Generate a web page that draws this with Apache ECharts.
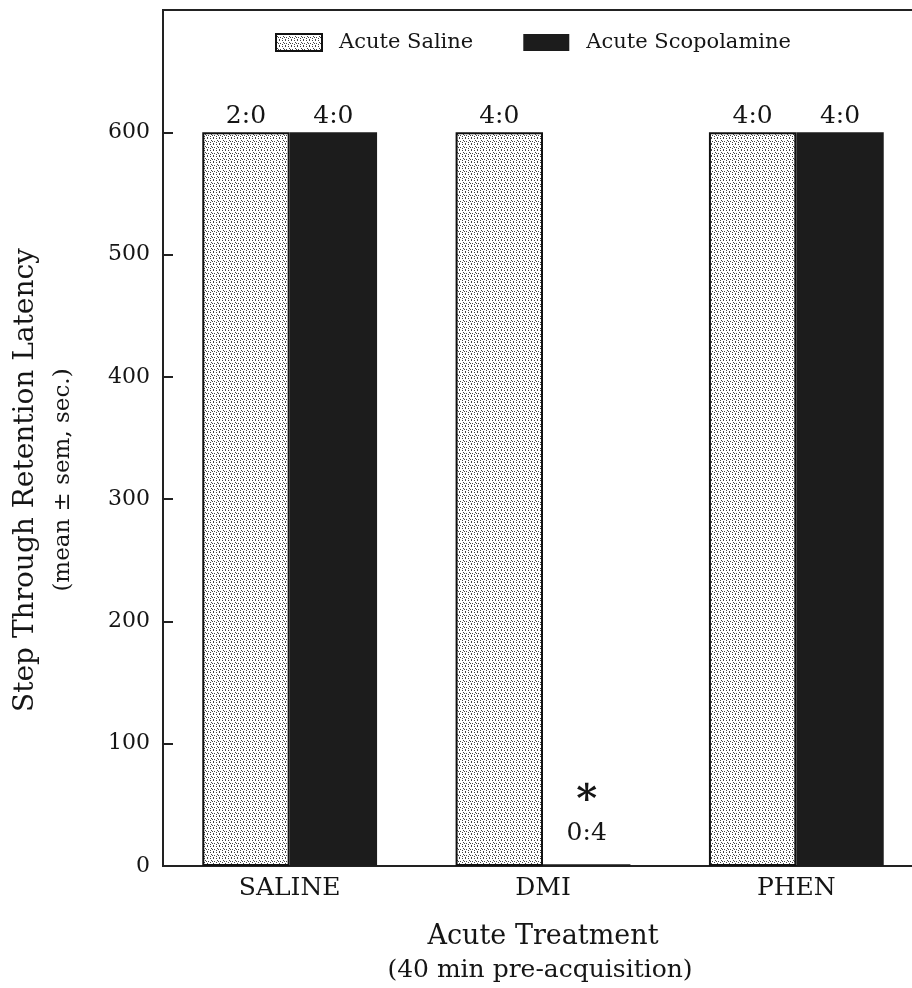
<!DOCTYPE html>
<html><head><meta charset="utf-8">
<script src="https://cdn.jsdelivr.net/npm/echarts@6/dist/echarts.min.js"></script>
<style>html,body{margin:0;padding:0;background:#fff}#c{width:912px;height:988px}</style>
</head><body><div id="c"></div>
<script>
const categories = ['SALINE', 'DMI', 'PHEN'];
const salineValues = [600, 600, 600];
const scopValues = [600, 1.5, 600];
const salineLabels = ['2:0', '4:0', '4:0'];
const scopLabels = ['4:0', '0:4', '4:0'];
const scopStars = [false, true, false];
const yTicks = [0, 100, 200, 300, 400, 500, 600];

function makePattern() {
  const c = document.createElement('canvas');
  c.width = 6; c.height = 6;
  const g = c.getContext('2d');
  g.fillStyle = '#fff'; g.fillRect(0, 0, 6, 6);
  g.fillStyle = '#444';
  [[0,0],[3,0],[1,2],[4,3],[0,4],[3,5],[2,3]].forEach(p => g.fillRect(p[0], p[1], 1, 1));
  return c;
}
const pat = { image: makePattern(), repeat: 'repeat' };
const FONT = 'DejaVu Serif';
const INK = '#151515';

const scopData = scopValues.map((v, i) => scopStars[i]
  ? { value: v, label: { distance: 16, formatter: '{s|*}\n{n|' + scopLabels[i] + '}' } }
  : { value: v, label: { formatter: scopLabels[i] } });

const chart = echarts.init(document.getElementById('c'), null, { renderer: 'canvas' });
chart.setOption({
  animation: false,
  textStyle: { fontFamily: FONT, color: INK },
  grid: { left: 163, width: 760, top: 10, bottom: 122, show: true, borderColor: '#222', borderWidth: 2,
    outerBoundsMode: 'none', containLabel: false },
  legend: {
    top: 27, left: 270, itemWidth: 46, itemHeight: 17, itemGap: 50, icon: 'rect',
    textStyle: { fontFamily: FONT, fontSize: 21, color: INK, padding: [0, 0, 0, 12] },
    data: [
      { name: 'Acute Saline', itemStyle: { color: pat, borderColor: '#111', borderWidth: 2 } },
      { name: 'Acute Scopolamine', itemStyle: { color: '#1c1c1c' } }
    ]
  },
  xAxis: {
    type: 'category', data: categories,
    axisLine: { lineStyle: { color: '#222', width: 2 } },
    axisTick: { show: false },
    axisLabel: { fontFamily: FONT, fontSize: 25, color: INK, margin: 10 },
    name: 'Acute Treatment', nameLocation: 'middle', nameGap: 57,
    nameTextStyle: { fontFamily: FONT, fontSize: 27, color: INK }
  },
  yAxis: {
    type: 'value', min: 0, max: 700, interval: 100,
    axisLine: { show: true, lineStyle: { color: '#222', width: 2 } },
    axisTick: { show: true, length: 10, inside: true, lineStyle: { width: 2, color: '#222' },
      customValues: yTicks },
    axisLabel: { fontFamily: FONT, fontSize: 22, color: INK, margin: 13, customValues: yTicks },
    splitLine: { show: false }
  },
  graphic: [
    { type: 'text', x: 26, y: 480, rotation: Math.PI / 2,
      style: { text: 'Step Through Retention Latency', font: '28px "' + FONT + '"', fill: INK, align: 'center', verticalAlign: 'middle' } },
    { type: 'text', x: 63, y: 480, rotation: Math.PI / 2,
      style: { text: '(mean \u00b1 sem, sec.)', font: '23px "' + FONT + '"', fill: INK, align: 'center', verticalAlign: 'middle' } },
    { type: 'text', x: 540, y: 970,
      style: { text: '(40 min pre-acquisition)', font: '25px "' + FONT + '"', fill: INK, align: 'center', verticalAlign: 'middle' } }
  ],
  series: [
    { name: 'Acute Saline', type: 'bar', data: salineValues, barGap: '0%', barCategoryGap: '31%',
      itemStyle: { color: pat, borderColor: '#111', borderWidth: 2 },
      label: { show: true, position: 'top', distance: 3, fontFamily: FONT, fontSize: 25, color: INK,
        formatter: p => salineLabels[p.dataIndex] } },
    { name: 'Acute Scopolamine', type: 'bar', data: scopData,
      itemStyle: { color: '#1c1c1c' },
      label: { show: true, position: 'top', distance: 3, fontFamily: FONT, fontSize: 25, color: INK,
        rich: {
          s: { fontSize: 40, fontWeight: 'bold', lineHeight: 34, fontFamily: FONT, color: INK },
          n: { fontSize: 25, lineHeight: 30, fontFamily: FONT, color: INK }
        } } }
  ]
});
</script></body></html>
